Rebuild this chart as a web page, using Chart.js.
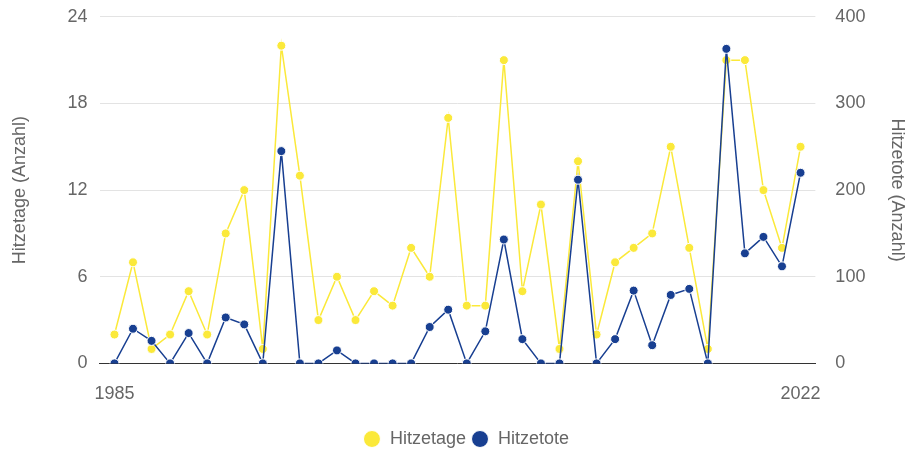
<!DOCTYPE html>
<html>
<head>
<meta charset="utf-8">
<script src="https://cdn.jsdelivr.net/npm/chart.js@4/dist/chart.umd.min.js"></script>
<style>
  html, body { margin: 0; padding: 0; background: #fff; }
  #wrap { width: 909px; height: 458px; }
</style>
</head>
<body>
<div id="wrap"><canvas id="myChart"></canvas></div>
<script>
const jahre = [1985, 1986, 1987, 1988, 1989, 1990, 1991, 1992, 1993, 1994, 1995, 1996, 1997, 1998, 1999,
  2000, 2001, 2002, 2003, 2004, 2005, 2006, 2007, 2008, 2009, 2010, 2011, 2012, 2013, 2014, 2015,
  2016, 2017, 2018, 2019, 2020, 2021, 2022];
const hitzetage = [2, 7, 1, 2, 5, 2, 9, 12, 1, 22, 13, 3, 6, 3, 5, 4, 8, 6, 17, 4, 4, 21, 5, 11, 1, 14,
  2, 7, 8, 9, 15, 8, 1, 21, 21, 12, 8, 15];
const hitzetote = [0, 40, 26, 0, 35, 0, 53, 45, 0, 245, 0, 0, 15, 0, 0, 0, 0, 42, 62, 0, 37, 143, 28, 0, 0, 212,
  0, 28, 84, 21, 79, 86, 0, 363, 127, 146, 112, 220];
const xTicks = [1985, 2022];
const leftTicks = [0, 6, 12, 18, 24];
const rightTicks = [0, 100, 200, 300, 400];

const gelb = '#fbe93a';
const blau = '#183f91';
const schrift = 'Liberation Sans, Arial, sans-serif';
const unsichtbar = 'rgba(0,0,0,0)';

const ctx = document.getElementById('myChart').getContext('2d');
new Chart(ctx, {
  type: 'line',
  data: {
    datasets: [
      {
        label: 'Hitzetage',
        data: jahre.map((j, i) => ({ x: j, y: hitzetage[i] })),
        yAxisID: 'yLeft',
        borderColor: gelb,
        backgroundColor: gelb,
        borderWidth: 1.5,
        pointRadius: 4.5,
        pointBorderColor: '#fff',
        pointBorderWidth: 1,
        order: 1
      },
      {
        label: 'Hitzetote',
        data: jahre.map((j, i) => ({ x: j, y: hitzetote[i] })),
        yAxisID: 'yRight',
        borderColor: blau,
        backgroundColor: blau,
        borderWidth: 1.5,
        pointRadius: 4.5,
        pointBorderColor: '#fff',
        pointBorderWidth: 1,
        order: 0
      }
    ]
  },
  options: {
    responsive: true,
    maintainAspectRatio: false,
    animation: false,
    layout: { padding: { left: 9, right: -14, top: 0, bottom: 0 } },
    plugins: {
      tooltip: { enabled: false },
      legend: {
        position: 'bottom',
        labels: {
          usePointStyle: true,
          pointStyle: 'circle',
          boxWidth: 18,
          boxHeight: 12,
          padding: 5,
          color: '#666',
          font: { family: schrift, size: 18 },
          sort: (a, b) => a.datasetIndex - b.datasetIndex
        }
      }
    },
    scales: {
      x: {
        type: 'linear',
        min: 1984.2,
        max: 2022.8,
        afterBuildTicks: s => { s.ticks = xTicks.map(v => ({ value: v })); },
        ticks: {
          color: '#666',
          padding: 20,
          font: { family: schrift, size: 18 },
          callback: v => String(v)
        },
        grid: { display: false, drawTicks: false },
        border: { display: true, color: '#333', width: 1 }
      },
      yLeft: {
        position: 'left',
        min: 0,
        max: 24,
        afterBuildTicks: s => { s.ticks = leftTicks.map(v => ({ value: v })); },
        ticks: {
          color: '#666',
          padding: 6,
          font: { family: schrift, size: 18 }
        },
        grid: { color: '#e3e3e3', drawTicks: true, tickLength: 6, tickColor: unsichtbar },
        border: { display: false },
        title: {
          display: true,
          text: 'Hitzetage (Anzahl)',
          color: '#666',
          padding: { top: 0, bottom: 31 },
          font: { family: schrift, size: 18 }
        }
      },
      yRight: {
        position: 'right',
        min: 0,
        max: 400,
        afterBuildTicks: s => { s.ticks = rightTicks.map(v => ({ value: v })); },
        ticks: {
          color: '#666',
          padding: 6,
          font: { family: schrift, size: 18 }
        },
        grid: { display: false, drawTicks: true, tickLength: 14 },
        border: { display: false },
        title: {
          display: true,
          text: 'Hitzetote (Anzahl)',
          color: '#666',
          padding: { top: 15, bottom: 15 },
          font: { family: schrift, size: 18 }
        }
      }
    }
  }
});
</script>
</body>
</html>
